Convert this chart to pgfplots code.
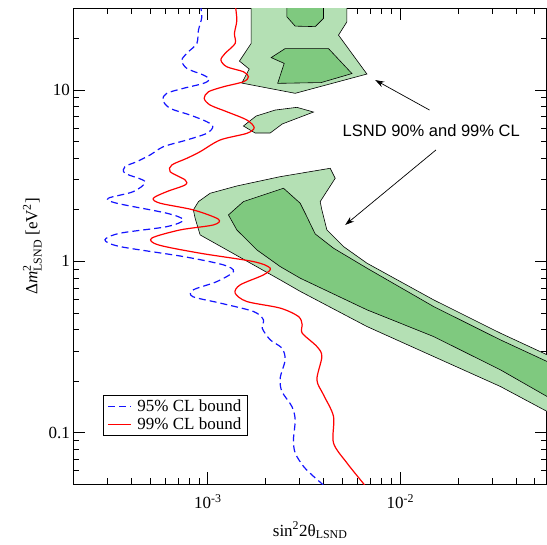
\documentclass[border=0pt]{standalone}
\usepackage{fontspec}
\setmainfont{Liberation Serif}
\newfontfamily\arialfont{Liberation Sans}
\usepackage{pgfplots}
\pgfplotsset{compat=1.18}
\usetikzlibrary{arrows.meta}
\definecolor{lightg}{RGB}{180,224,180}
\definecolor{darkg}{RGB}{127,201,127}
\definecolor{bl}{RGB}{20,20,255}
\definecolor{rd}{RGB}{255,0,0}
\begin{document}
\begin{tikzpicture}
\begin{axis}[name=ax,
  scale only axis, width=473.4pt, height=475.7pt,
  xmode=log, ymode=log,
  xmin=2e-4, xmax=5.79e-2, ymin=0.05, ymax=30,
  axis line style={line width=1pt},
  tick align=inside, major tick length=12pt, minor tick length=6pt,
  every tick/.style={black, line width=0.8pt},
  xtick={1e-3,1e-2}, xticklabels={10\textsuperscript{-3},10\textsuperscript{-2}},
  ytick={0.1,1,10}, yticklabels={0.1,1,10},
  minor xtick={3e-4,4e-4,5e-4,6e-4,7e-4,8e-4,9e-4,2e-3,3e-3,4e-3,5e-3,6e-3,7e-3,8e-3,9e-3,2e-2,3e-2,4e-2,5e-2},
  minor ytick={0.06,0.07,0.08,0.09,0.2,0.3,0.4,0.5,0.6,0.7,0.8,0.9,2,3,4,5,6,7,8,9,20},
  tick label style={font=\fontsize{17}{20}\selectfont},
  xticklabel style={yshift=-7pt},
  xlabel={sin\textsuperscript{2}2θ\textsubscript{LSND}},
  ylabel={Δ\textit{m}$^{\mathrm{2}}_{\mathrm{LSND}}$ [eV\textsuperscript{2}]},
  label style={font=\fontsize{17}{20}\selectfont},
  xlabel style={yshift=-6pt},
  legend style={at={(0.0627,0.101)}, anchor=south west, draw=black, line width=0.8pt,
    fill=white, font=\fontsize{17}{18}\selectfont, inner xsep=4pt, inner ysep=2pt,
    row sep=0pt, column sep=4pt, nodes={inner ysep=1.5pt, text height=12pt, text depth=3pt}},
  legend cell align=left,
]
% LSND 99% CL (light) regions
\addplot[forget plot, fill=lightg, draw=black, line width=0.6pt] coordinates {
(1.680e-3,34) (1.680e-3,18.72) (1.460e-3,14.76) (1.640e-3,13.26) (1.502e-3,10.98)
(2.844e-3,9.57) (6.712e-3,12.40) (4.777e-3,20.92) (5.283e-3,25.02) (5.283e-3,34)} -- cycle;
\addplot[forget plot, fill=lightg, draw=black, line width=0.6pt] coordinates {
(1.531e-3,6.168) (1.783e-3,7.053) (2.239e-3,7.643) (2.903e-3,7.927) (3.541e-3,7.441)
(2.434e-3,6.336) (2.109e-3,5.613) (1.762e-3,5.613)} -- cycle;
\addplot[forget plot, fill=lightg, draw=black, line width=0.6pt] coordinates {
(8.94e-4,2.233) (1.028e-3,2.498) (1.415e-3,2.755) (2.377e-3,3.122) (4.325e-3,3.494)
(4.592e-3,3.055) (3.837e-3,2.233) (3.915e-3,1.997) (4.157e-3,1.526) (5.073e-3,1.220)
(6.712e-3,0.976) (1.490e-2,0.5964) (3.311e-2,0.3814) (5.793e-2,0.2850) (6.792e-2,0.2630)
(6.792e-2,0.1207) (5.793e-2,0.1331) (3.311e-2,0.1862) (1.490e-2,0.2785) (6.712e-3,0.4167)
(3.020e-3,0.6684) (2.377e-3,0.780) (1.255e-3,1.167) (9.12e-4,1.427) (8.59e-4,1.786)
(8.41e-4,1.997)} -- cycle;
% LSND 90% CL (dark) regions
\addplot[forget plot, fill=darkg, draw=black, line width=0.6pt] coordinates {
(2.575e-3,34) (2.575e-3,26.76) (2.844e-3,23.61) (3.614e-3,23.45) (3.991e-3,26.19) (3.991e-3,34)} -- cycle;
\addplot[forget plot, fill=darkg, draw=black, line width=0.6pt] coordinates {
(2.523e-3,17.46) (4.238e-3,17.46) (5.609e-3,12.48) (3.883e-3,11.06) (2.307e-3,10.94)
(2.494e-3,14.31) (2.134e-3,15.47)} -- cycle;
\addplot[forget plot, fill=darkg, draw=black, line width=0.6pt] coordinates {
(1.280e-3,1.867) (1.531e-3,2.233) (2.473e-3,2.672) (3.020e-3,2.185) (3.206e-3,1.910)
(3.614e-3,1.446) (4.499e-3,1.194) (6.712e-3,0.913) (1.490e-2,0.5451) (3.311e-2,0.3485)
(5.793e-2,0.2604) (6.792e-2,0.2393) (6.792e-2,0.1476) (5.793e-2,0.1627) (3.311e-2,0.2330)
(1.490e-2,0.3642) (6.712e-3,0.5215) (3.020e-3,0.798) (2.377e-3,0.9326) (1.798e-3,1.167)
(1.415e-3,1.526)} -- cycle;
% 95% CL bound
\addplot[draw=bl, line width=1.2pt, dash pattern=on 7pt off 4pt, smooth,
  legend image code/.code={\draw[bl, line width=1.2pt, dash pattern=on 7pt off 4pt] (0cm,0cm) -- (0.8cm,0cm);}] coordinates {
(9.12e-4,31.7) (9.31e-4,26.76) (8.94e-4,22.38) (8.77e-4,18.72) (7.93e-4,16.72)
(7.32e-4,14.96) (7.78e-4,13.38) (9.49e-4,12.23) (1.019e-3,11.54) (9.49e-4,10.94)
(7.46e-4,10.23) (6.12e-4,9.57) (5.83e-4,8.743) (6.37e-4,7.822) (8.09e-4,7.148)
(9.88e-4,6.535) (1.062e-3,6.109) (9.88e-4,5.590) (7.78e-4,5.111) (5.88e-4,4.671)
(5.01e-4,4.178) (4.27e-4,3.819) (3.71e-4,3.571) (3.71e-4,3.268) (4.72e-4,2.920)
(4.10e-4,2.553) (3.04e-4,2.336) (3.36e-4,2.185) (6.12e-4,1.910) (7.46e-4,1.746)
(6.12e-4,1.595) (3.50e-4,1.460) (2.92e-4,1.335) (3.50e-4,1.220) (7.46e-4,1.067)
(1.205e-3,0.954) (1.359e-3,0.872) (1.114e-3,0.762) (8.41e-4,0.682) (8.34e-4,0.623)
(1.159e-3,0.571) (1.726e-3,0.510) (1.946e-3,0.456) (1.916e-3,0.408) (2.109e-3,0.3485)
(2.426e-3,0.3118) (2.523e-3,0.2665) (2.377e-3,0.2084) (2.426e-3,0.1741) (2.734e-3,0.1423)
(2.844e-3,0.1191) (2.787e-3,0.0910) (2.844e-3,0.0761) (3.141e-3,0.0636) (3.541e-3,0.0556)
(3.915e-3,0.0504) (4.025e-3,0.0484)};
\addlegendentry{95\% CL bound}
% 99% CL bound
\addplot[draw=rd, line width=1.2pt, smooth,
  legend image code/.code={\draw[rd, line width=1.2pt] (0cm,0cm) -- (0.8cm,0cm);}] coordinates {
(1.387e-3,31.7) (1.415e-3,25.6) (1.375e-3,21.41) (1.387e-3,18.72) (1.230e-3,16.37)
(1.169e-3,14.96) (1.255e-3,13.67) (1.531e-3,12.79) (1.626e-3,11.96) (1.531e-3,11.18)
(1.205e-3,10.45) (1.007e-3,9.77) (9.57e-4,8.944) (1.028e-3,8.175) (1.255e-3,7.472)
(1.595e-3,6.686) (1.741e-3,6.029) (1.595e-3,5.590) (1.159e-3,5.111) (9.12e-4,4.367)
(7.78e-4,3.997) (6.50e-4,3.653) (6.37e-4,3.339) (7.62e-4,2.987) (7.62e-4,2.793)
(6.12e-4,2.553) (5.21e-4,2.336) (5.65e-4,2.185) (8.41e-4,1.997) (1.135e-3,1.762)
(1.069e-3,1.632) (7.18e-4,1.526) (5.11e-4,1.366) (5.53e-4,1.248) (9.12e-4,1.116)
(1.726e-3,0.997) (2.109e-3,0.913) (1.946e-3,0.834) (1.472e-3,0.729) (1.387e-3,0.653)
(1.595e-3,0.583) (2.377e-3,0.5336) (2.959e-3,0.4766) (3.093e-3,0.4263) (3.093e-3,0.3814)
(3.688e-3,0.3185) (3.915e-3,0.2785) (3.688e-3,0.2037) (3.991e-3,0.1665) (4.499e-3,0.1245)
(4.499e-3,0.0871) (5.283e-3,0.0666) (6.445e-3,0.0504) (6.656e-3,0.0478)};
\addlegendentry{99\% CL bound}
% annotation
\draw[-{Stealth[length=9pt,width=6pt]}, line width=0.7pt] (axis cs:1.420e-2,7.643) -- (axis cs:7.413e-3,11.44);
\draw[-{Stealth[length=9pt,width=6pt]}, line width=0.7pt] (axis cs:1.533e-2,4.469) -- (axis cs:5.176e-3,1.632);
\node[font=\arialfont\fontsize{16.5}{19}\selectfont, fill=white, inner sep=1pt] at (axis cs:1.449e-2,5.767) {LSND 90\% and 99\% CL};
\end{axis}
\pgfresetboundingbox
\path ([shift={(-73.3pt,-60pt)}]ax.south west) rectangle ([shift={(0pt,8.3pt)}]ax.north east);
\end{tikzpicture}
\end{document}
